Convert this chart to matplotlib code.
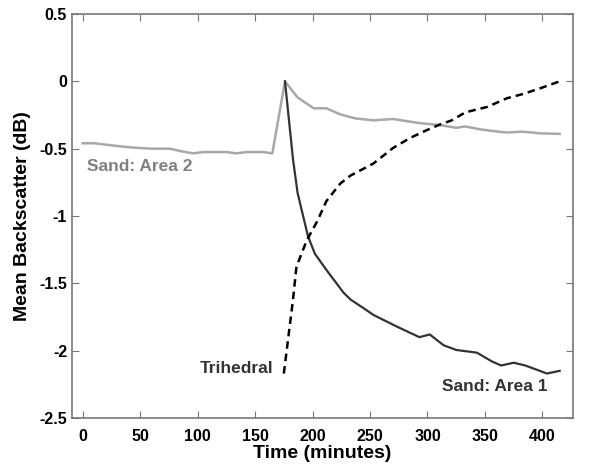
import matplotlib
matplotlib.use('Agg')
import matplotlib.pyplot as plt

plt.rcParams['font.family'] = ['Liberation Sans', 'DejaVu Sans']

# Sand: Area 2 (light grey)
t_area2 = [0, 10, 20, 30, 41, 50, 60, 76, 86, 96, 105, 115, 125, 134, 143,
           157, 165, 176, 187, 201, 212, 224, 237, 253, 270, 293, 311, 325,
           333, 346, 358, 369, 383, 398, 415]
y_area2 = [-0.46, -0.46, -0.47, -0.48, -0.49, -0.495, -0.50, -0.50, -0.52,
           -0.535, -0.525, -0.525, -0.525, -0.535, -0.525, -0.525, -0.535,
           0.0, -0.12, -0.20, -0.20, -0.245, -0.275, -0.29, -0.28, -0.31,
           -0.325, -0.345, -0.335, -0.357, -0.37, -0.38, -0.374, -0.386, -0.39]

# Sand: Area 1 (dark)
t_area1 = [176, 183, 187, 196, 202, 212, 227, 233, 247, 253, 273, 293, 302,
           314, 325, 343, 356, 364, 375, 385, 404, 415]
y_area1 = [0.0, -0.58, -0.83, -1.15, -1.28, -1.40, -1.57, -1.62, -1.70,
           -1.735, -1.82, -1.90, -1.88, -1.96, -1.995, -2.015, -2.08, -2.11,
           -2.09, -2.11, -2.17, -2.15]

# Trihedral (dashed)
t_tri = [175, 183, 186, 195, 204, 212, 224, 233, 253, 270, 285, 300, 311,
         321, 333, 352, 369, 383, 398, 415]
y_tri = [-2.17, -1.62, -1.376, -1.18, -1.04, -0.89, -0.76, -0.70, -0.61,
         -0.495, -0.42, -0.36, -0.32, -0.29, -0.23, -0.19, -0.126, -0.094,
         -0.052, 0.0]

xticks = [0, 50, 100, 150, 200, 250, 300, 350, 400]
yticks = [-2.5, -2, -1.5, -1, -0.5, 0, 0.5]
ylabels = ['-2.5', '-2', '-1.5', '-1', '-0.5', '0', '0.5']

fig = plt.figure(figsize=(5.97, 4.67), dpi=100)
ax = fig.add_axes([0.1206, 0.105, 0.8394, 0.865])

ax.plot(t_area2, y_area2, color='#a8a8a8', linewidth=1.8)
ax.plot(t_area1, y_area1, color='#333333', linewidth=1.6)
ax.plot(t_tri, y_tri, color='black', linewidth=1.8, linestyle=(0, (3, 2)))

ax.text(3.7, -0.636, 'Sand: Area 2', color='#808080', fontsize=12.5,
        fontweight='bold', va='center', ha='left')
ax.text(166, -2.136, 'Trihedral', color='#333333', fontsize=12.5,
        fontweight='bold', va='center', ha='right')
ax.text(404, -2.27, 'Sand: Area 1', color='#333333', fontsize=12.5,
        fontweight='bold', va='center', ha='right')

ax.set_xlim(-9.3, 426.7)
ax.set_ylim(-2.5, 0.5)
ax.set_xticks(xticks)
ax.set_yticks(yticks)
ax.set_yticklabels(ylabels)
ax.tick_params(direction='in', top=True, right=True, length=5,
               color='#777777', labelsize=11.5)
ax.tick_params(axis='x', pad=8)
for lab in ax.get_xticklabels() + ax.get_yticklabels():
    lab.set_fontweight('bold')
for s in ax.spines.values():
    s.set_color('#777777')
    s.set_linewidth(1.2)

ax.set_xlabel('Time (minutes)', fontsize=14, fontweight='bold', labelpad=1)
ax.set_ylabel('Mean Backscatter (dB)', fontsize=14, fontweight='bold', labelpad=6)

fig.savefig('out.png', dpi=100)
